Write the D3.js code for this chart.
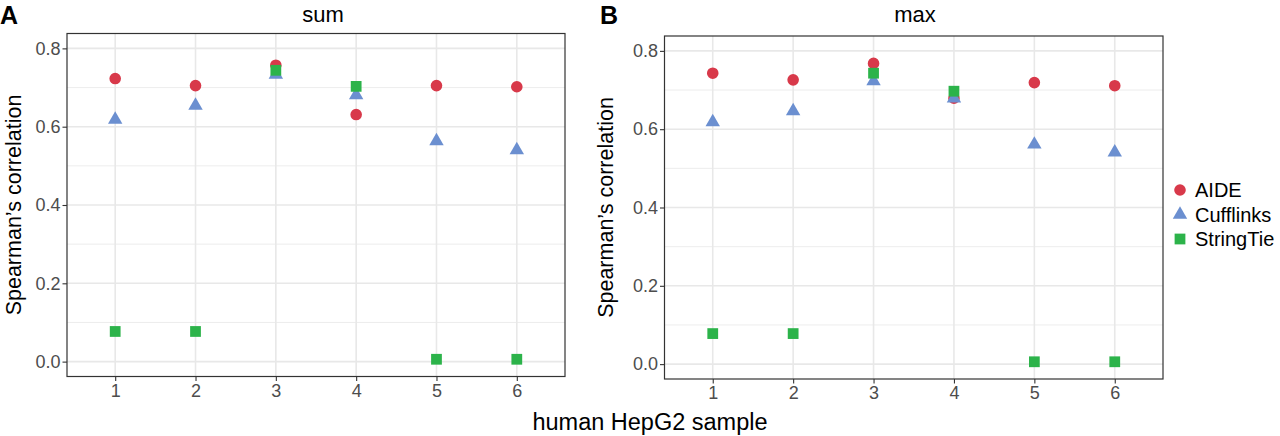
<!DOCTYPE html>
<html>
<head>
<meta charset="utf-8">
<script src="https://cdn.jsdelivr.net/npm/d3@7"></script>
<style>
  body { margin: 0; background: #fff; }
  text { font-family: "Liberation Sans", Arial, Helvetica, sans-serif; }
</style>
</head>
<body>
<svg width="1280" height="436"></svg>
<script>
// data
const samples = [1, 2, 3, 4, 5, 6];
const seriesNames = ['AIDE', 'Cufflinks', 'StringTie'];
const aideSum = [0.723, 0.705, 0.757, 0.631, 0.705, 0.702];
const cuffSum = [0.618, 0.654, 0.733, 0.681, 0.563, 0.540];
const stringSum = [0.077, 0.077, 0.744, 0.703, 0.006, 0.006];
const aideMax = [0.743, 0.726, 0.768, 0.679, 0.719, 0.711];
const cuffMax = [0.618, 0.646, 0.723, 0.679, 0.561, 0.541];
const stringMax = [0.078, 0.078, 0.743, 0.697, 0.006, 0.006];
const yTicks = [0, 0.2, 0.4, 0.6, 0.8];
const yMinor = [0.1, 0.3, 0.5, 0.7];

const colors = ['#d8394a', '#6b8fd0', '#2cb34a'];
const shapes = [d3.symbolCircle, d3.symbolTriangle, d3.symbolSquare];
const sizes = [106, 90, 116];

const svg = d3.select('svg');

const panels = [
  { letter: 'A', title: 'sum', values: [aideSum, cuffSum, stringSum],
    left: 67, right: 565, top: 33.5, bottom: 376.5, letterX: 0, titleX: 323, yLabX: 13 },
  { letter: 'B', title: 'max', values: [aideMax, cuffMax, stringMax],
    left: 664.5, right: 1163, top: 36, bottom: 379, letterX: 600, titleX: 915, yLabX: 605 }
];

const render = p => {
  const xScale = d3.scaleLinear()
    .domain([0.4, 6.6])
    .range([p.left, p.right]);
  const yScale = d3.scaleLinear()
    .domain([-0.038, 0.838])
    .range([p.bottom, p.top]);

  const g = svg.append('g');

  // grid
  g.selectAll('.minor').data(yMinor)
    .enter().append('line')
    .attr('x1', p.left).attr('x2', p.right)
    .attr('y1', d => yScale(d)).attr('y2', d => yScale(d))
    .attr('stroke', '#ebebeb').attr('stroke-width', 0.9);
  g.selectAll('.majory').data(yTicks)
    .enter().append('line')
    .attr('x1', p.left).attr('x2', p.right)
    .attr('y1', d => yScale(d)).attr('y2', d => yScale(d))
    .attr('stroke', '#e8e8e8').attr('stroke-width', 1.6);
  g.selectAll('.majorx').data(samples)
    .enter().append('line')
    .attr('x1', d => xScale(d)).attr('x2', d => xScale(d))
    .attr('y1', p.top).attr('y2', p.bottom)
    .attr('stroke', '#e8e8e8').attr('stroke-width', 1.6);

  // points, drawn in series order
  p.values.forEach((vals, i) => {
    g.selectAll('.pt' + i).data(vals)
      .enter().append('path')
      .attr('d', d3.symbol().type(shapes[i]).size(sizes[i]))
      .attr('transform', (d, j) => `translate(${xScale(samples[j])},${yScale(d)})`)
      .attr('fill', colors[i]);
  });

  // border
  g.append('rect')
    .attr('x', p.left).attr('y', p.top)
    .attr('width', p.right - p.left).attr('height', p.bottom - p.top)
    .attr('fill', 'none').attr('stroke', '#333').attr('stroke-width', 1.2);

  // axes
  const yAxis = d3.axisLeft(yScale).tickValues(yTicks)
    .tickFormat(d3.format('.1f')).tickSize(4.5).tickPadding(2);
  const yAxisG = g.append('g')
    .attr('transform', `translate(${p.left},0)`).call(yAxis);
  const xAxis = d3.axisBottom(xScale).tickValues(samples)
    .tickFormat(d3.format('d')).tickSize(4.5).tickPadding(3);
  const xAxisG = g.append('g')
    .attr('transform', `translate(0,${p.bottom})`).call(xAxis);
  [yAxisG, xAxisG].forEach(a => {
    a.select('.domain').remove();
    a.selectAll('.tick line').attr('stroke', '#333').attr('stroke-width', 1.1);
    a.selectAll('.tick text').attr('fill', '#4d4d4d')
      .style('font-size', '18px').style('font-family', '"Liberation Sans", Arial, sans-serif');
  });

  // titles
  g.append('text')
    .attr('x', p.letterX).attr('y', 24)
    .style('font-size', '25px').style('font-weight', 'bold')
    .text(p.letter);
  g.append('text')
    .attr('x', p.titleX).attr('y', 22)
    .attr('text-anchor', 'middle')
    .style('font-size', '22px')
    .text(p.title);
  g.append('text')
    .attr('transform', `translate(${p.yLabX},${(p.top + p.bottom) / 2}) rotate(-90)`)
    .attr('dy', '0.35em')
    .attr('text-anchor', 'middle')
    .style('font-size', '21.5px')
    .text('Spearman\u2019s correlation');
};

panels.forEach(render);

// shared x title
svg.append('text')
  .attr('x', 650).attr('y', 430)
  .attr('text-anchor', 'middle')
  .style('font-size', '23.5px')
  .text('human HepG2 sample');

// legend
const legendY = d3.scalePoint()
  .domain(seriesNames)
  .range([190, 239]);
const legend = svg.append('g');
seriesNames.forEach((name, i) => {
  legend.append('path')
    .attr('d', d3.symbol().type(shapes[i]).size(sizes[i]))
    .attr('transform', `translate(1180,${legendY(name)})`)
    .attr('fill', colors[i]);
  legend.append('text')
    .attr('x', 1195).attr('y', legendY(name))
    .attr('dy', '0.36em')
    .style('font-size', '20px')
    .text(name);
});
</script>
</body>
</html>
